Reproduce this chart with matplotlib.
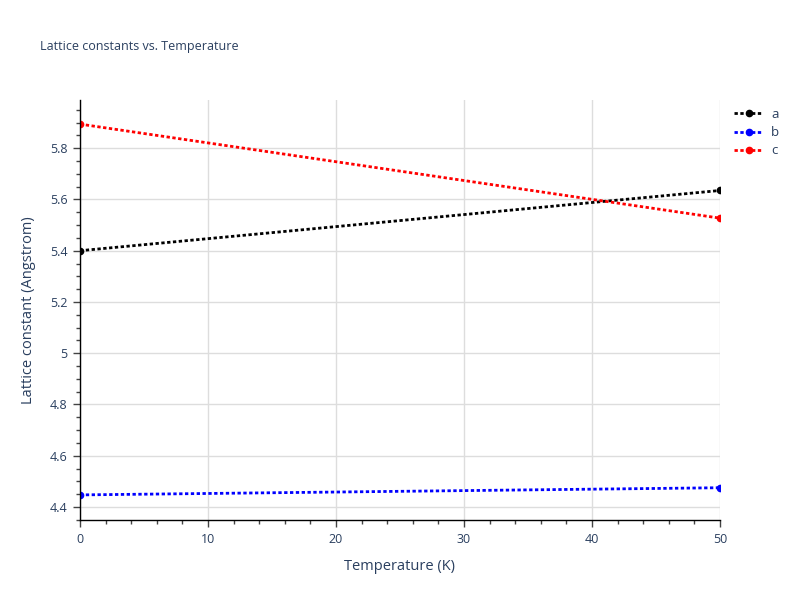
import matplotlib
matplotlib.use("Agg")
import matplotlib.pyplot as plt
from matplotlib.ticker import MultipleLocator

plt.rcParams['font.family'] = ['Open Sans', 'DejaVu Sans']

temperature = [0, 50]
lattice_a = [5.400, 5.635]
lattice_b = [4.447, 4.475]
lattice_c = [5.894, 5.527]
series_names = ["a", "b", "c"]
series_colors = ["black", "blue", "red"]

text_color = "#2a3f5f"

fig = plt.figure(figsize=(8, 6), dpi=100)
ax = fig.add_axes([0.1, 0.1333, 0.8, 0.7])

for vals, name, col in zip([lattice_a, lattice_b, lattice_c], series_names, series_colors):
    ax.plot(temperature, vals, linestyle=(0, (1.2, 0.9)), linewidth=2, color=col,
            marker="o", markersize=4.5, label=name, clip_on=True, zorder=3)

ax.set_xlim(0, 50)
ax.set_ylim(4.349, 5.988)
ax.xaxis.set_major_locator(MultipleLocator(10))
ax.xaxis.set_minor_locator(MultipleLocator(2))
ax.yaxis.set_major_locator(MultipleLocator(0.2))
ax.yaxis.set_minor_locator(MultipleLocator(0.05))
ax.yaxis.set_major_formatter(plt.FuncFormatter(lambda v, p: f"{v:g}"))

ax.grid(True, which="major", color="#dddddd", linewidth=1)
ax.set_axisbelow(True)
for s in ["top", "right"]:
    ax.spines[s].set_visible(False)
for s in ["left", "bottom"]:
    ax.spines[s].set_color("black")
    ax.spines[s].set_linewidth(1)
    ax.spines[s].set_zorder(4)

ax.tick_params(which="major", direction="out", length=5, width=1, color="#444444",
               labelsize=9, labelcolor=text_color, pad=4)
ax.tick_params(which="minor", direction="out", length=3, width=1, color="#444444")

ax.set_xlabel("Temperature (K)", fontsize=10.5, color=text_color, labelpad=10)
ax.set_ylabel("Lattice constant (Angstrom)", fontsize=10.5, color=text_color, labelpad=10)

fig.text(0.05, 0.923, "Lattice constants vs. Temperature", fontsize=9, color=text_color,
         va="center", ha="left")

leg = ax.legend(loc="upper left", bbox_to_anchor=(1.01, 1.0), frameon=False,
                fontsize=9.5, labelcolor=text_color, handlelength=2.2, handletextpad=0.6,
                labelspacing=0.4, borderaxespad=0.2)

fig.savefig("out.png", dpi=100)
plt.close(fig)
